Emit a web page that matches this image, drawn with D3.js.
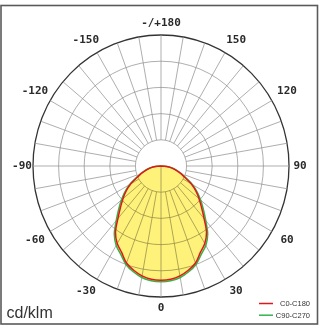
<!DOCTYPE html>
<html>
<head>
<meta charset="utf-8">
<script src="https://cdn.jsdelivr.net/npm/d3@7"></script>
<style>
  body { margin: 0; background: #fff; }
  svg { display: block; }
</style>
</head>
<body>
<svg id="chart" width="320" height="330"></svg>
<script>
// gamma angles (deg from nadir), intensities in cd/klm, symmetric planes
const gammaAngles = [0, 5, 10, 15, 20, 25, 30, 35, 40, 45, 50, 55, 60, 65, 70, 75, 80, 85, 90];
const c0c180 = [218, 217, 213, 206, 197, 182, 171, 155, 131, 112, 97, 83, 68, 51, 40, 30, 21, 11, 0];
const c90c270 = [221, 220, 216, 209, 200, 186, 175, 159, 136, 117, 101, 86, 71, 54, 42, 32, 22, 11.5, 0];
const ringValues = [50, 100, 150, 200, 250];
const angleLabels = [0, 30, 60, 90, 120, 150, 180, -150, -120, -90, -60, -30];
const labelText = d => d === 180 ? "-/+180" : String(d);
const seriesNames = ["C0-C180", "C90-C270"];
const seriesColors = ["#e3161e", "#32b44a"];

(function() {
    const svg = d3.select("#chart");
    const cx = 161, cy = 166, rx = 128, ry = 131;

    const r = d3.scaleLinear().domain([0, 250]).range([0, 1]);
    const rad = a => a * Math.PI / 180;
    const px = (a, v) => cx + r(v) * rx * Math.sin(rad(a));
    const py = (a, v) => cy + r(v) * ry * Math.cos(rad(a));

    // frame
    svg.append("rect")
        .attr("x", 1).attr("y", 5.5)
        .attr("width", 316.5).attr("height", 318.5)
        .attr("fill", "none")
        .attr("stroke", "#5a5a5a")
        .attr("stroke-width", 1.6);

    const grid = svg.append("g");

    // rings
    grid.selectAll("ellipse")
        .data(ringValues)
        .join("ellipse")
        .attr("cx", cx).attr("cy", cy)
        .attr("rx", d => r(d) * rx)
        .attr("ry", d => r(d) * ry)
        .attr("fill", "none")
        .attr("stroke", d => d === 250 ? "#333" : "#939393")
        .attr("stroke-width", d => d === 250 ? 1.3 : 0.75);

    // spokes every 10 deg, starting at the first ring
    const spokes = d3.range(0, 360, 10);
    grid.selectAll("line")
        .data(spokes)
        .join("line")
        .attr("x1", d => px(d, d === 0 ? 0 : ringValues[0]))
        .attr("y1", d => py(d, d === 0 ? 0 : ringValues[0]))
        .attr("x2", d => px(d, 250))
        .attr("y2", d => py(d, 250))
        .attr("stroke", "#939393")
        .attr("stroke-width", 0.75);

    // full curve from -90 through 0 to +90
    function curvePoints(vals) {
        const pts = [];
        for (let i = gammaAngles.length - 1; i >= 0; i--) pts.push([-gammaAngles[i], vals[i]]);
        for (let i = 1; i < gammaAngles.length; i++) pts.push([gammaAngles[i], vals[i]]);
        return pts;
    }
    const line = d3.line()
        .x(d => px(d[0], d[1]))
        .y(d => py(d[0], d[1]))
        .curve(d3.curveCatmullRomClosed);

    const series = [c0c180, c90c270];

    svg.append("g")
        .style("mix-blend-mode", "multiply")
        .selectAll("path")
        .data(series)
        .join("path")
        .attr("d", d => line(curvePoints(d)))
        .attr("fill", "#fff27a")
        .attr("stroke", "none");

    svg.append("path")
        .attr("d", line(curvePoints(c90c270)))
        .attr("fill", "none")
        .attr("stroke", seriesColors[1])
        .attr("stroke-width", 1.5);
    svg.append("path")
        .attr("d", line(curvePoints(c0c180)))
        .attr("fill", "none")
        .attr("stroke", seriesColors[0])
        .attr("stroke-width", 1.5);

    // angle labels, placed just outside the outer ring
    const s = a => Math.sin(rad(a)), c = a => Math.cos(rad(a));
    svg.append("g")
        .selectAll("text")
        .data(angleLabels)
        .join("text")
        .attr("x", d => cx + (139 + 13 * Math.abs(c(d))) * s(d))
        .attr("y", d => cy - 1 + (142.5 + 8 * s(d) * s(d)) * c(d))
        .attr("text-anchor", "middle")
        .attr("dominant-baseline", "central")
        .attr("font-family", "DejaVu Sans Mono")
        .attr("font-weight", "bold")
        .attr("font-size", 11)
        .attr("fill", "#2a2a2a")
        .text(labelText);

    svg.append("text")
        .attr("x", 6.5).attr("y", 318)
        .attr("font-family", "Liberation Sans, Arial")
        .attr("font-size", 16)
        .attr("fill", "#333")
        .text("cd/klm");

    // legend
    const leg = svg.append("g")
        .selectAll("g")
        .data(seriesNames)
        .join("g")
        .attr("transform", (d, i) => `translate(0,${303.5 + i * 11.7})`);
    leg.append("line")
        .attr("x1", 259).attr("x2", 273)
        .attr("stroke", (d, i) => seriesColors[i])
        .attr("stroke-width", 1.5);
    leg.append("text")
        .attr("x", 310)
        .attr("text-anchor", "end")
        .attr("dominant-baseline", "central")
        .attr("font-family", "Liberation Sans, Arial")
        .attr("font-size", 7.5)
        .attr("fill", "#333")
        .text(d => d);
})();
</script>
</body>
</html>
